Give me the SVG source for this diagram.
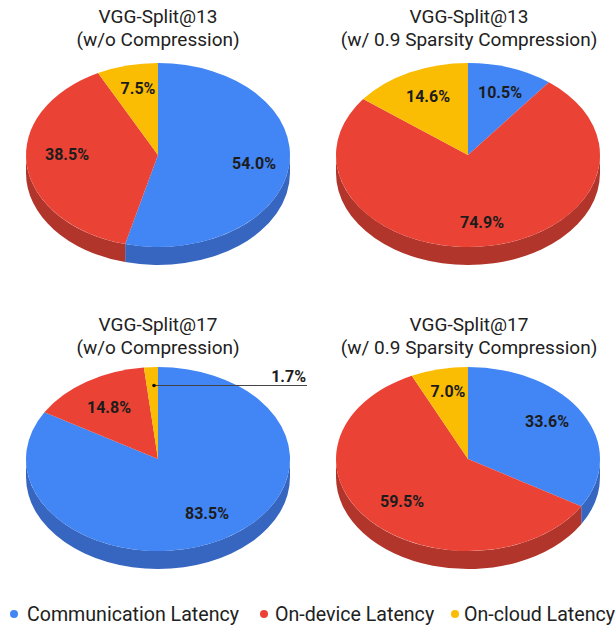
<svg xmlns="http://www.w3.org/2000/svg" width="616" height="628" viewBox="0 0 616 628">
  <style>
    .title { font-family: Roboto, "Liberation Sans", sans-serif; font-size: 19px; fill: #212121; text-anchor: middle; }
    .pct { font-family: Roboto, "Liberation Sans", sans-serif; font-size: 16px; font-weight: bold; fill: #1c1c1c; text-anchor: middle; }
    .legend { font-family: Roboto, "Liberation Sans", sans-serif; font-size: 19.6px; fill: #212121; }
    .comm { fill: #4285f4; }
    .comm-side { fill: #3766c0; }
    .dev { fill: #ea4335; }
    .dev-side { fill: #b1352a; }
    .cloud { fill: #fbbc04; }
    .leader { stroke: #444; stroke-width: 1; fill: none; }
  </style>
  <rect width="616" height="628" fill="#ffffff"/>

  <!-- VGG-Split@13, no compression: 54.0 / 38.5 / 7.5 -->
  <g id="pie-split13-raw">
    <text class="title" x="158" y="23">VGG-Split@13</text>
    <text class="title" x="158" y="46">(w/o Compression)</text>
    <path class="comm-side" d="M290,155 A132,92 0 0 1 125.17,244.11 L125.17,262.11 A132,92 0 0 0 290,173 Z"/>
    <path class="dev-side" d="M125.17,244.11 A132,92 0 0 1 26,155 L26,173 A132,92 0 0 0 125.17,262.11 Z"/>
    <path class="comm" d="M158,155 L158,63 A132,92 0 1 1 125.17,244.11 Z"/>
    <path class="dev" d="M158,155 L125.17,244.11 A132,92 0 0 1 98.07,73.03 Z"/>
    <path class="cloud" d="M158,155 L98.07,73.03 A132,92 0 0 1 158,63 Z"/>
    <text class="pct" x="138" y="94">7.5%</text>
    <text class="pct" x="67" y="160">38.5%</text>
    <text class="pct" x="254" y="169">54.0%</text>
  </g>

  <!-- VGG-Split@13, 0.9 sparsity: 10.5 / 74.9 / 14.6 -->
  <g id="pie-split13-sparse">
    <text class="title" x="469" y="23">VGG-Split@13</text>
    <text class="title" x="469" y="46">(w/ 0.9 Sparsity Compression)</text>
    <path class="dev-side" d="M600,155 A132,92 0 0 1 336,155 L336,173 A132,92 0 0 0 600,173 Z"/>
    <path class="comm" d="M468,155 L468,63 A132,92 0 0 1 548.90,82.30 Z"/>
    <path class="dev" d="M468,155 L548.90,82.30 A132,92 0 1 1 363.14,99.12 Z"/>
    <path class="cloud" d="M468,155 L363.14,99.12 A132,92 0 0 1 468,63 Z"/>
    <text class="pct" x="428" y="102">14.6%</text>
    <text class="pct" x="500" y="98">10.5%</text>
    <text class="pct" x="482" y="228">74.9%</text>
  </g>

  <!-- VGG-Split@17, no compression: 83.5 / 14.8 / 1.7 -->
  <g id="pie-split17-raw">
    <text class="title" x="158" y="331">VGG-Split@17</text>
    <text class="title" x="158" y="354">(w/o Compression)</text>
    <path class="comm-side" d="M290,459 A132,92 0 0 1 26,459 L26,477 A132,92 0 0 0 290,477 Z"/>
    <path class="comm" d="M158,459 L158,367 A132,92 0 1 1 44.39,412.17 Z"/>
    <path class="dev" d="M158,459 L44.39,412.17 A132,92 0 0 1 143.93,367.52 Z"/>
    <path class="cloud" d="M158,459 L143.93,367.52 A132,92 0 0 1 158,367 Z"/>
    <text class="pct" x="109" y="413">14.8%</text>
    <text class="pct" x="207" y="519">83.5%</text>
    <text class="pct" x="306" y="382" style="text-anchor:end">1.7%</text>
  </g>

  <!-- VGG-Split@17, 0.9 sparsity: 33.6 / 59.5 / 7.0 -->
  <g id="pie-split17-sparse">
    <text class="title" x="469" y="331">VGG-Split@17</text>
    <text class="title" x="469" y="354">(w/ 0.9 Sparsity Compression)</text>
    <path class="comm-side" d="M600,459 A132,92 0 0 1 581.22,506.32 L581.22,524.32 A132,92 0 0 0 600,477 Z"/>
    <path class="dev-side" d="M581.22,506.32 A132,92 0 0 1 336,459 L336,477 A132,92 0 0 0 581.22,524.32 Z"/>
    <path class="comm" d="M468,459 L468,367 A132,92 0 0 1 581.22,506.32 Z"/>
    <path class="dev" d="M468,459 L581.22,506.32 A132,92 0 1 1 411.80,375.76 Z"/>
    <path class="cloud" d="M468,459 L411.80,375.76 A132,92 0 0 1 468,367 Z"/>
    <text class="pct" x="448" y="397">7.0%</text>
    <text class="pct" x="547" y="427">33.6%</text>
    <text class="pct" x="402" y="507">59.5%</text>
  </g>

  <!-- leader line for the small on-cloud slice -->
  <g id="connectors">
    <line class="leader" x1="154" y1="385.5" x2="307" y2="385.5"/>
    <circle cx="154" cy="385.5" r="1.8" fill="#111"/>
  </g>

  <!-- legend -->
  <g id="legend">
    <circle class="comm" cx="14" cy="614" r="4"/>
    <text class="legend" x="27" y="621">Communication Latency</text>
    <circle class="dev" cx="264" cy="614" r="4"/>
    <text class="legend" x="275" y="621">On-device Latency</text>
    <circle class="cloud" cx="455" cy="614" r="4"/>
    <text class="legend" x="464" y="621">On-cloud Latency</text>
  </g>
</svg>
